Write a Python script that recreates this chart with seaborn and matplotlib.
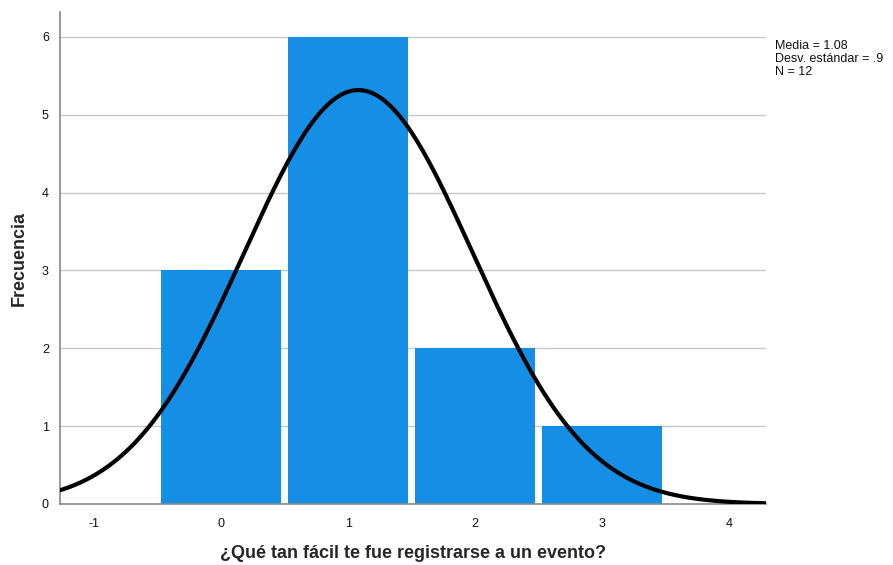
import numpy as np
import pandas as pd
import matplotlib
matplotlib.use("Agg")
import matplotlib.pyplot as plt
import seaborn as sns

categories = [0, 1, 2, 3]
counts = [3, 6, 2, 1]
mean_val = 1.08
sd_val = 0.9003
n_val = 12
xlabel = "¿Qué tan fácil te fue registrarse a un evento?"
ylabel = "Frecuencia"
stats_text = "Media = 1.08\nDesv. estándar = .9\nN = 12"

sns.set_style("white")
plt.rcParams['font.family'] = ['Liberation Sans', 'DejaVu Sans']
plt.rcParams['axes.unicode_minus'] = False

fig = plt.figure(figsize=(8.93, 5.65), dpi=100)
ax = fig.add_axes([60/893, 61/565, 706/893, 492/565])

df = pd.DataFrame({"valor": categories, "frecuencia": counts})
sns.histplot(data=df, x="valor", weights="frecuencia", discrete=True, ax=ax,
             shrink=0.945, color="#158FE6", alpha=1, linewidth=0, zorder=2)

xs = np.linspace(-1.27, 4.29, 400)
ys = n_val * 1.0 * np.exp(-0.5 * ((xs - mean_val) / sd_val) ** 2) / (sd_val * np.sqrt(2 * np.pi))
sns.lineplot(x=xs, y=ys, ax=ax, color="black", linewidth=3, zorder=3)

ax.set_xlim(-1.27, 4.29)
ax.set_ylim(0, 6.32)
ax.set_xticks([-1, 0, 1, 2, 3, 4])
ax.set_yticks([0, 1, 2, 3, 4, 5, 6])
ax.tick_params(axis='both', length=0, labelsize=9, colors="#111111")
ax.tick_params(axis='x', pad=10)
ax.tick_params(axis='y', pad=8)
ax.yaxis.grid(True, color="#c8c8c8", linewidth=1, zorder=0)
ax.set_axisbelow(True)
for s in ["top", "right"]:
    ax.spines[s].set_visible(False)
for s in ["left", "bottom"]:
    ax.spines[s].set_color("#888888")
    ax.spines[s].set_linewidth(1.2)

ax.set_xlabel(xlabel, fontsize=13, fontweight="bold", labelpad=11)
ax.set_ylabel(ylabel, fontsize=13, fontweight="bold", labelpad=10)

fig.text(775/893, 1 - 40/565, stats_text, fontsize=9, va="top", ha="left",
         linespacing=1.1, color="#111111")

fig.savefig("out.png", dpi=100)
